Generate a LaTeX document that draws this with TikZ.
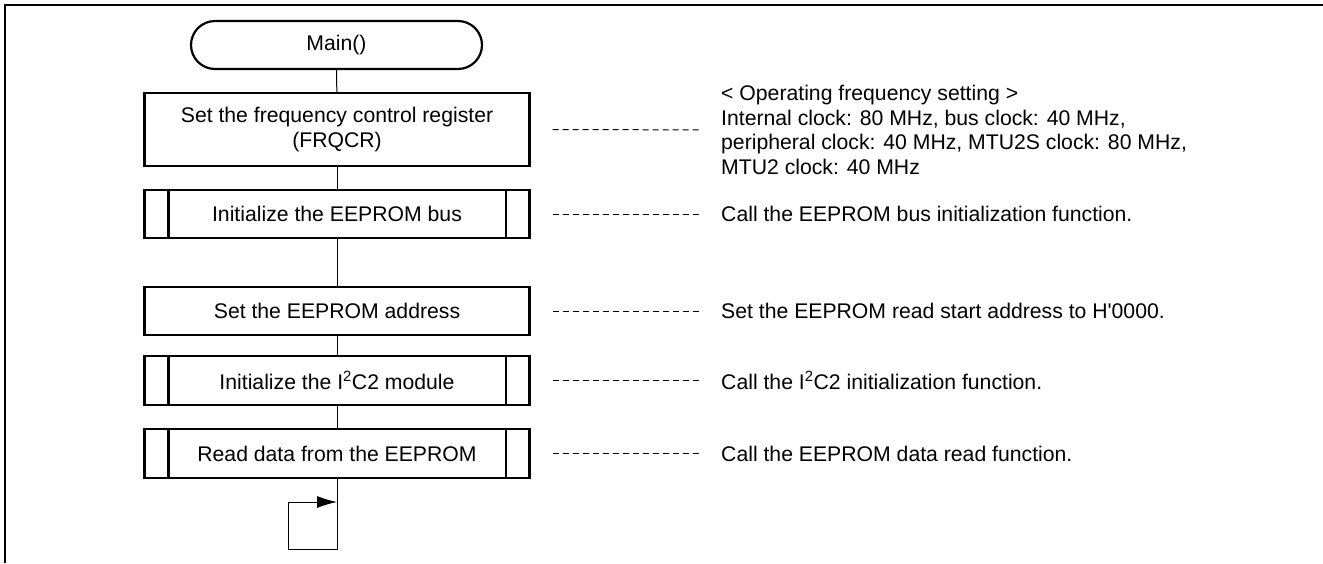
\documentclass[tikz,border=0pt]{standalone}
\usepackage{fontspec}
\setmainfont{Liberation Sans}
\usepackage{tikz}
\usetikzlibrary{positioning,calc,arrows.meta}

\begin{document}
\begin{tikzpicture}[
		x=1pt,y=-1pt,
		>=Latex,
		line cap=butt,line join=miter,
		font=\fontsize{21.2}{24.5}\selectfont,
		boxline/.style={black, line width=2.2pt},
		procbox/.style={boxline, draw, rectangle, minimum width=385, minimum height=48, inner sep=0pt, align=center},
		subbox/.style={procbox},
		termbox/.style={boxline, draw, rectangle, rounded corners=24pt, minimum width=291, minimum height=48, inner sep=0pt},
		flow/.style={black, line width=1pt},
		note/.style={black, line width=1pt, dash pattern=on 6pt off 4pt, shorten <=22pt, shorten >=22pt},
		notetxt/.style={anchor=west, align=left, inner sep=0pt}
		]
		%----- parameters
		\def\cx{337}       % centre line of the flow
		\def\inset{25}     % side bars of the call boxes
		\def\nx{721}       % left edge of the notes
		
		\useasboundingbox (0,0) rectangle (1323,563);
		
		%----- frame (top and left only)
		\draw[black, line width=2pt] (1323,5) -- (5,5) -- (5,563);
		
		%----- flow boxes
		\node[termbox] (main) at (336.5,45) {Main()};
		\node[procbox, minimum height=73] (frq) at (\cx,129.5) {Set the frequency control register\\(FRQCR)};
		\node[subbox] (bus) at (\cx,214) {Initialize the EEPROM bus};
		\node[procbox] (adr) at (\cx,311) {Set the EEPROM address};
		\node[subbox, minimum height=49] (i2c) at (\cx,380.5) {Initialize the I\textsuperscript{2}C2 module};
		\node[subbox, minimum height=49] (rd) at (\cx,453.5) {Read data from the EEPROM};
		
		% side bars of the call boxes
		\foreach \n in {bus,i2c,rd}{
			\draw[boxline] ([xshift=\inset]\n.north west) -- ([xshift=\inset]\n.south west);
			\draw[boxline] ([xshift=-\inset]\n.north east) -- ([xshift=-\inset]\n.south east);
		}
		
		%----- connectors
		\draw[flow] (main) -- (frq);
		\draw[flow] (frq) -- (bus);
		\draw[flow] (bus) -- (adr);
		\draw[flow] (adr) -- (i2c);
		\draw[flow] (i2c) -- (rd);
		
		% endless loop
		\coordinate (loopA) at (288,549);
		\coordinate (loopB) at (288,502);
		\draw[flow] (rd.south) |- (loopA) -- (loopB);
		\draw[flow, -{Latex[length=20pt,width=12pt]}] (loopB) -- (rd.south |- loopB);
		
		%----- notes
		\node[notetxt] (frqN) at (\nx,130) {< Operating frequency setting >\\
			Internal clock: 80 MHz, bus clock: 40 MHz,\\
			peripheral clock: 40 MHz, MTU2S clock: 80 MHz,\\
			MTU2 clock: 40 MHz};
		\node[notetxt] (busN) at (\nx,214) {Call the EEPROM bus initialization function.};
		\node[notetxt] (adrN) at (\nx,311) {Set the EEPROM read start address to H\textquotesingle 0000.};
		\node[notetxt] (i2cN) at (\nx,380.5) {Call the I\textsuperscript{2}C2 initialization function.};
		\node[notetxt] (rdN) at (\nx,453.5) {Call the EEPROM data read function.};
		
		\draw[note] (frq) -- (frqN);
		\draw[note] (bus) -- (busN);
		\draw[note] (adr) -- (adrN);
		\draw[note] (i2c) -- (i2cN);
		\draw[note] (rd) -- (rdN);
		
	\end{tikzpicture}
\end{document}
